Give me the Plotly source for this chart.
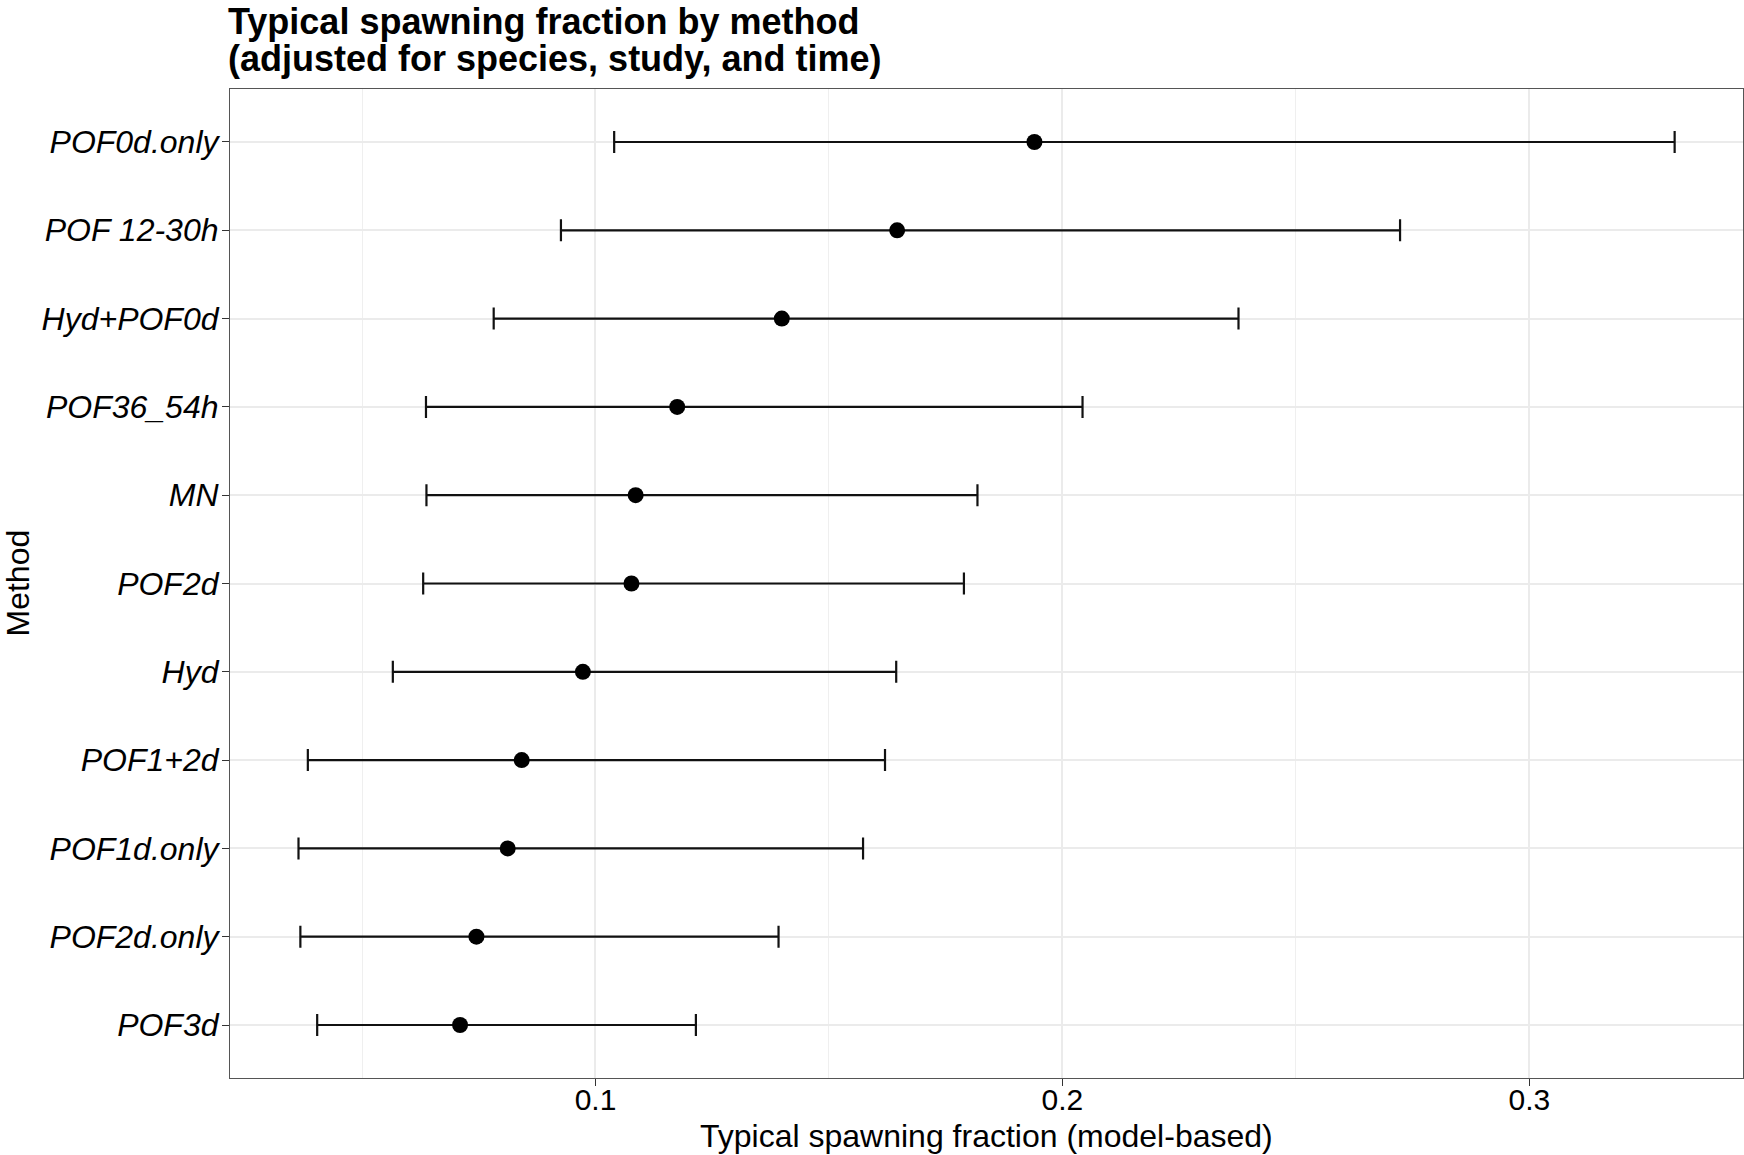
import plotly.graph_objects as go

# Categories from bottom to top
methods = ["POF3d", "POF2d.only", "POF1d.only", "POF1+2d", "Hyd", "POF2d",
           "MN", "POF36_54h", "Hyd+POF0d", "POF 12-30h", "POF0d.only"]
estimate = [0.0710, 0.0745, 0.0812, 0.0842, 0.0973, 0.1077,
            0.1086, 0.1175, 0.1399, 0.1646, 0.1940]
lower = [0.0404, 0.0368, 0.0364, 0.0384, 0.0566, 0.0631,
         0.0638, 0.0637, 0.0782, 0.0926, 0.1040]
upper = [0.1215, 0.1392, 0.1573, 0.1620, 0.1644, 0.1789,
         0.1818, 0.2043, 0.2377, 0.2723, 0.3311]
x_ticks = [0.1, 0.2, 0.3]
x_tick_labels = ["0.1", "0.2", "0.3"]

FONT = "Liberation Sans, Arial, sans-serif"

err_plus = [u - e for u, e in zip(upper, estimate)]
err_minus = [e - l for e, l in zip(estimate, lower)]

fig = go.Figure()
fig.add_trace(go.Scatter(
    x=estimate, y=methods, mode="markers",
    marker=dict(color="black", size=16),
    error_x=dict(type="data", symmetric=False, array=err_plus, arrayminus=err_minus,
                 color="#111111", thickness=2.2, width=11),
    showlegend=False,
))

fig.update_layout(
    width=1744, height=1155,
    margin=dict(l=230, r=1, t=89, b=77),
    paper_bgcolor="white", plot_bgcolor="white",
    font=dict(family=FONT, color="black"),
    xaxis=dict(
        range=[0.02173, 0.34574],
        tickmode="array", tickvals=x_ticks, ticktext=x_tick_labels,
        tickfont=dict(size=30, color="black", family=FONT),
        ticks="outside", ticklen=7, tickcolor="#333333", tickwidth=1,
        ticklabelstandoff=-12,
        showgrid=True, gridcolor="#EBEBEB", gridwidth=2,
        minor=dict(tickvals=[0.05, 0.15, 0.25], showgrid=True, gridcolor="#EFEFEF", gridwidth=1.2, ticks=""),
        showline=True, linecolor="#555555", linewidth=1.2, mirror=True,
        zeroline=False,
    ),
    yaxis=dict(
        type="category", categoryorder="array", categoryarray=methods,
        range=[-0.6, len(methods) - 0.4],
        tickfont=dict(size=32, color="black", family=FONT, style="italic"),
        ticks="outside", ticklen=7, tickcolor="#333333", tickwidth=1,
        ticklabelstandoff=-3,
        showgrid=True, gridcolor="#EBEBEB", gridwidth=2,
        showline=True, linecolor="#555555", linewidth=1.2, mirror=True,
        zeroline=False,
    ),
)

# Title (two lines, left-aligned with the panel)
fig.add_annotation(text="<b>Typical spawning fraction by method</b>",
                   xref="paper", yref="paper", x=-0.002, y=(1078 - 21) / 989,
                   xanchor="left", yanchor="middle", showarrow=False, borderpad=0,
                   font=dict(size=36, family=FONT, color="black"))
fig.add_annotation(text="<b>(adjusted for species, study, and time)</b>",
                   xref="paper", yref="paper", x=-0.002, y=(1078 - 58) / 989,
                   xanchor="left", yanchor="middle", showarrow=False, borderpad=0,
                   font=dict(size=36, family=FONT, color="black"))
# Axis titles
fig.add_annotation(text="Typical spawning fraction (model-based)",
                   xref="paper", yref="paper", x=0.5, y=(1078 - 1136) / 989,
                   xanchor="center", yanchor="middle", showarrow=False, borderpad=0,
                   font=dict(size=32, family=FONT, color="black"))
fig.add_annotation(text="Method", textangle=-90,
                   xref="paper", yref="paper", x=(17 - 230) / 1513, y=0.5,
                   xanchor="center", yanchor="middle", showarrow=False, borderpad=0,
                   font=dict(size=32, family=FONT, color="black"))

fig.write_html("out.html", config={"displayModeBar": False},
               post_script="document.body.style.margin='0px';")
